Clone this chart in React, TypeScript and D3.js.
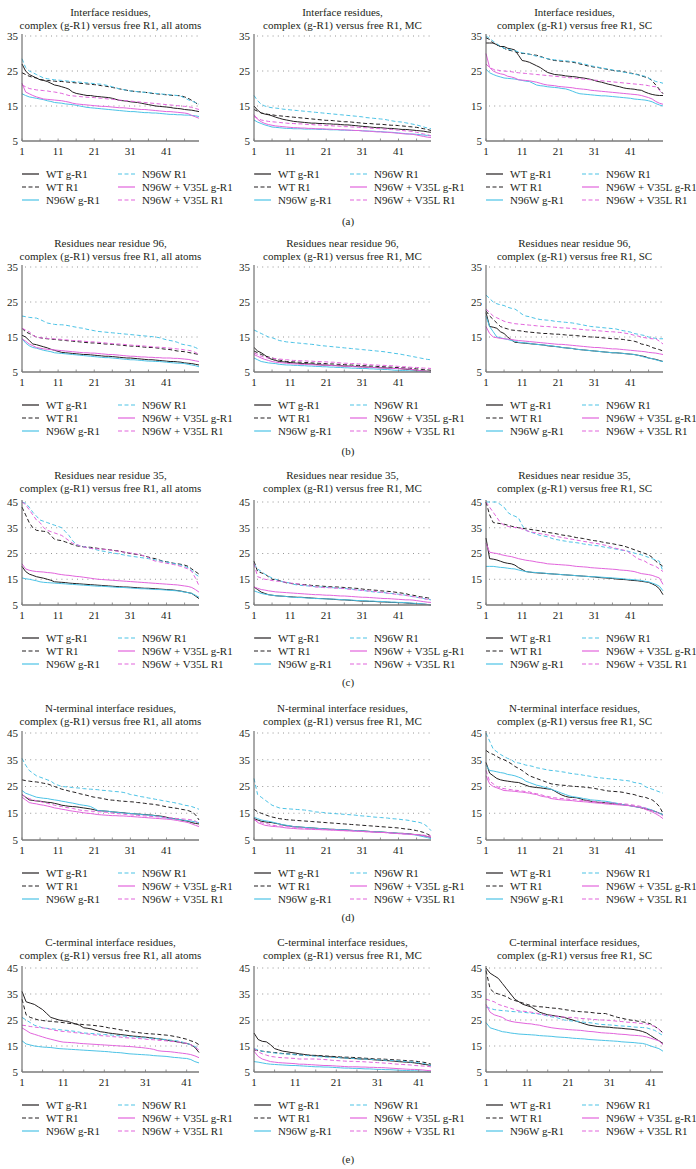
import React from "react";
import * as d3 from "d3";

// ---------- labels ----------
const seriesNames = ["WT g-R1", "WT R1", "N96W g-R1", "N96W R1", "N96W + V35L g-R1", "N96W + V35L R1"];
const rowTitles = ["Interface residues,", "Residues near residue 96,", "Residues near residue 35,", "N-terminal interface residues,", "C-terminal interface residues,"];
const panelSuffix = ["all atoms", "MC", "SC"];
const captions = ["(a)", "(b)", "(c)", "(d)", "(e)"];
const xTickValues = [1, 11, 21, 31, 41];
const yTicksLow = [5, 15, 25, 35];
const yTicksHigh = [5, 15, 25, 35, 45];
const rowYMax = [35, 35, 45, 45, 45];
const rowCount = [50, 50, 50, 50, 44];

// ---------- data: row (a) ----------
const a1_wtG = [27,25,24,23.5,23,22.5,22.3,22,21.5,21,20.8,20.5,20.2,19.8,19,18.6,18.4,18.2,18,18,17.8,17.7,17.6,17.5,17.4,17.2,16.9,16.6,16.5,16.4,16.2,16.1,16,15.8,15.6,15.4,15.2,15,14.9,14.8,14.7,14.6,14.4,14.3,14.2,14,13.9,13.8,13.6,13.4];
const a1_wtR = [24.5,24,23.5,23.2,23,22.6,22.4,22.3,22.2,22.1,22,22,21.9,21.8,21.7,21.6,21.5,21.4,21.3,21.2,21.1,21,20.8,20.7,20.5,20.3,20.1,19.9,19.7,19.5,19.3,19.2,19.1,19,18.9,18.8,18.6,18.5,18.4,18.3,18.2,18.1,18,18,17.9,17.6,17.2,16.6,16,15.2];
const a1_nG = [18.5,18,17.6,17.4,17.2,17,16.8,16.5,16.3,16,15.9,15.8,15.6,15.5,15.4,15.2,15,14.8,14.6,14.5,14.4,14.3,14.2,14.1,14,13.9,13.8,13.7,13.6,13.5,13.4,13.4,13.3,13.2,13.1,13.1,13,13,12.9,12.8,12.7,12.6,12.6,12.5,12.5,12.4,12.4,12.3,12.2,12];
const a1_nR = [28.5,26,25,24.5,24,23.5,23,22.8,22.6,22.5,22.4,22.3,22.2,22.1,22,21.9,21.8,21.7,21.6,21.5,21.4,21.3,21.2,21,20.8,20.5,20.2,19.9,19.7,19.5,19.3,19.2,19.1,19,18.9,18.8,18.7,18.6,18.5,18.4,18.3,18.2,18.1,18,17.8,17.3,16.8,16.4,16,15.5];
const a1_vG = [21.5,19,18.5,18,17.6,17.3,17,16.9,16.8,16.7,16.6,16.5,16.3,16.1,15.8,15.6,15.5,15.4,15.3,15.2,15.1,15,14.9,14.9,14.8,14.7,14.6,14.5,14.5,14.4,14.3,14.2,14.1,14,14,13.9,13.8,13.7,13.6,13.5,13.4,13.4,13.3,13.2,13.1,13,12.8,12.3,11.9,11.5];
const a1_vR = [21,20.5,20,19.8,19.6,19.5,19.4,19.3,19.1,19,18.8,18.6,18.3,18,17.9,17.8,17.7,17.6,17.5,17.5,17.4,17.3,17.2,17.1,17,16.9,16.8,16.7,16.6,16.5,16.4,16.3,16.2,16.1,16,15.9,15.8,15.7,15.6,15.5,15.4,15.3,15.2,15.1,15,14.9,14.8,14.6,14.3,14];

const a2_wtG = [15,13.8,13,12.7,12.5,12.2,11.8,11.5,11.2,11,10.8,10.6,10.5,10.4,10.3,10.2,10.1,10.1,10,10,9.9,9.9,9.8,9.8,9.7,9.6,9.6,9.5,9.4,9.3,9.2,9.1,9,8.9,8.8,8.8,8.7,8.6,8.6,8.5,8.4,8.3,8.3,8.2,8.1,8,7.9,7.8,7.6,7.5];
const a2_wtR = [14,13.5,13,12.8,12.6,12.5,12.3,12.2,12.1,12,11.9,11.8,11.7,11.6,11.5,11.4,11.3,11.2,11.1,11,10.9,10.9,10.8,10.7,10.6,10.5,10.5,10.4,10.3,10.2,10.1,10,10,9.9,9.8,9.8,9.7,9.6,9.5,9.5,9.4,9.3,9.2,9.1,9,8.9,8.7,8.5,8.3,8];
const a2_nG = [11,10.4,10,9.6,9.3,9,8.9,8.8,8.7,8.6,8.6,8.5,8.5,8.5,8.4,8.4,8.4,8.4,8.3,8.3,8.3,8.2,8.2,8.2,8.1,8.1,8.1,8,8,8,7.9,7.9,7.8,7.8,7.7,7.7,7.6,7.5,7.5,7.4,7.3,7.2,7.1,7,7,6.9,6.8,6.7,6.6,6.5];
const a2_nR = [18,16.5,15.5,15,14.7,14.5,14.4,14.3,14.1,14,13.9,13.8,13.7,13.6,13.5,13.4,13.3,13.2,13.1,13,12.9,12.8,12.7,12.6,12.5,12.4,12.3,12.2,12.1,12,11.9,11.7,11.6,11.5,11.4,11.3,11.2,11,10.8,10.6,10.5,10.4,10.2,10,9.8,9.6,9.3,9,8.7,8.5];
const a2_vG = [12.5,11.2,10.5,10,9.7,9.5,9.3,9.2,9.1,9,8.9,8.8,8.8,8.7,8.7,8.6,8.6,8.5,8.5,8.5,8.4,8.4,8.3,8.3,8.2,8.2,8.1,8.1,8,8,7.9,7.8,7.8,7.7,7.6,7.6,7.5,7.5,7.4,7.3,7.2,7.1,7,7,6.9,6.7,6.5,6.3,6.1,6];
const a2_vR = [12,11.5,11,10.8,10.6,10.5,10.4,10.3,10.2,10.1,10,10,9.9,9.9,9.8,9.7,9.7,9.6,9.6,9.5,9.4,9.4,9.3,9.3,9.2,9.1,9.1,9,9,8.9,8.8,8.8,8.7,8.6,8.6,8.5,8.4,8.4,8.3,8.2,8.1,8,7.9,7.8,7.7,7.5,7.2,7,6.8,6.5];

const a3_wtG = [33,33,33,32.5,32,32,31.5,31.3,31,29.5,28,27.8,27.5,27,26.5,26,25.3,24.6,24.3,24,23.9,23.8,23.6,23.5,23.4,23.3,23.1,23,22.8,22.6,22.3,22,21.8,21.5,21.2,21,20.7,20.5,20.2,20,19.9,19.8,19.6,19.5,19,18.6,18.3,18.1,18,18];
const a3_wtR = [34.5,34,33,32.5,32,31.5,31,30.8,30.5,30.3,30,30,29.8,29.6,29.5,29.2,28.8,28.5,28.2,28,27.9,27.8,27.7,27.6,27.5,27.3,27,26.8,26.5,26.3,26.1,26,25.8,25.6,25.4,25.2,25,25,24.8,24.6,24.4,24.2,24,23.6,23.3,23,22.2,21,19.8,18.5];
const a3_nG = [25.5,24.5,24,23.6,23.3,23,22.9,22.8,22.7,22.5,22.3,22.1,22,21.5,21,20.8,20.7,20.5,20.4,20.3,20.2,20,19.9,19.6,19.2,18.8,18.5,18.4,18.3,18.2,18.1,18,17.9,17.9,17.8,17.7,17.6,17.5,17.4,17.3,17.2,17,16.9,16.8,16.7,16.5,16.2,15.7,15.3,15];
const a3_nR = [35,34.3,33.5,32.8,32,31.5,31.2,31,30.8,30.5,30.2,30,29.8,29.5,29.2,29,28.8,28.5,28.3,28.2,28.1,28,27.9,27.8,27.7,27.5,27.3,27,26.8,26.5,26.3,26.1,25.9,25.7,25.5,25.3,25.1,24.9,24.7,24.5,24.3,24.1,23.9,23.7,23.5,23,22.5,22,21.8,21.5];
const a3_vG = [30,26,25,24.5,24.2,24,23.5,23.3,23,22.5,22.4,22.3,22.2,22,21.8,21.5,21.2,21,20.9,20.8,20.6,20.5,20.4,20.3,20.2,20,19.9,19.8,19.7,19.5,19.4,19.3,19.2,19.1,19,18.9,18.8,18.7,18.6,18.5,18.4,18.3,18.2,18,17.7,17.4,17,16.3,15.8,15.5];
const a3_vR = [27,26,25.5,25.3,25.1,25,24.9,24.8,24.6,24.5,24.4,24.3,24.2,24.1,24,23.9,23.8,23.7,23.6,23.5,23.4,23.3,23.2,23.1,23,22.9,22.8,22.7,22.6,22.5,22.4,22.3,22.2,22.1,22,21.9,21.8,21.7,21.6,21.5,21.4,21.3,21.2,21.1,21,20.8,20.6,20.5,19.5,18.5];

// ---------- data: row (b) ----------
const b1_wtG = [15.5,15,14,13,12.8,12.5,12.2,11.9,11.5,11.2,10.9,10.6,10.5,10.4,10.3,10.2,10.1,10,10,9.9,9.8,9.7,9.6,9.5,9.5,9.4,9.3,9.2,9.1,9,9,8.9,8.8,8.7,8.6,8.5,8.5,8.4,8.3,8.2,8.1,8,8,7.9,7.8,7.6,7.5,7.4,7.2,7];
const b1_wtR = [17.5,16.5,16,15.5,15,14.8,14.6,14.5,14.4,14.3,14.2,14.1,14,13.9,13.8,13.7,13.6,13.5,13.4,13.3,13.3,13.2,13.1,13,13,12.9,12.8,12.7,12.6,12.5,12.4,12.4,12.3,12.2,12.1,12,12,11.9,11.8,11.6,11.5,11.4,11.2,11,10.9,10.8,10.6,10.4,10.2,10];
const b1_nG = [14.5,13.3,12.5,12,11.8,11.5,11.2,11,10.8,10.5,10.4,10.3,10.2,10.1,10,9.9,9.8,9.7,9.6,9.5,9.4,9.3,9.2,9.1,9.1,9,8.9,8.8,8.7,8.6,8.5,8.5,8.4,8.3,8.2,8.1,8.1,8,8,7.9,7.8,7.7,7.6,7.5,7.5,7.4,7.2,7,6.8,6.5];
const b1_nR = [21,20.8,20.6,20.5,20.4,20,19.5,19,18.8,18.6,18.5,18.5,18.4,18.2,18,17.8,17.6,17.5,17.2,17,16.8,16.6,16.5,16.4,16.3,16.2,16.1,16,15.9,15.8,15.7,15.6,15.5,15.4,15.3,15.2,15.1,15,14.8,14.5,14.2,14,13.8,13.5,13,12.8,12.6,12.4,12,11.5];
const b1_vG = [14.5,13.8,13,12.5,12,11.8,11.6,11.5,11.4,11.3,11.2,11.1,11,10.9,10.8,10.7,10.6,10.5,10.5,10.4,10.4,10.3,10.2,10.1,10,10,9.9,9.8,9.7,9.6,9.5,9.5,9.4,9.3,9.3,9.2,9.2,9.1,9.1,9,9,9,8.9,8.9,8.8,8.7,8.6,8.4,8.2,8];
const b1_vR = [17.5,17,16.5,15.5,15,14.8,14.7,14.6,14.5,14.5,14.4,14.3,14.2,14.1,14,14,13.9,13.8,13.7,13.6,13.6,13.5,13.4,13.3,13.2,13.1,13,13,12.9,12.8,12.7,12.6,12.6,12.5,12.4,12.3,12.2,12.1,12.1,12,11.9,11.8,11.7,11.6,11.5,11.3,11.2,11,10.6,10];

const b2_wtG = [12,11,10.5,9.8,9,8.6,8.3,8,7.9,7.8,7.7,7.6,7.5,7.4,7.4,7.3,7.3,7.2,7.1,7,7,6.9,6.9,6.8,6.8,6.7,6.7,6.6,6.6,6.5,6.5,6.4,6.4,6.3,6.3,6.2,6.2,6.1,6.1,6,6,5.9,5.8,5.7,5.6,5.5,5.4,5.3,5.2,5];
const b2_wtR = [11,10.5,10,9.6,9.3,9,8.7,8.4,8.2,8,7.9,7.9,7.8,7.8,7.7,7.7,7.6,7.5,7.5,7.4,7.4,7.3,7.3,7.2,7.2,7.1,7,7,6.9,6.9,6.8,6.8,6.7,6.7,6.6,6.5,6.5,6.4,6.4,6.3,6.3,6.2,6.2,6.1,6,5.9,5.8,5.7,5.6,5.5];
const b2_nG = [9,8.5,8,7.8,7.6,7.5,7.4,7.2,7.1,7,7,6.9,6.9,6.8,6.8,6.7,6.7,6.6,6.6,6.5,6.5,6.4,6.4,6.3,6.3,6.2,6.2,6.1,6.1,6,6,6,5.9,5.9,5.8,5.8,5.7,5.7,5.6,5.5,5.5,5.4,5.4,5.3,5.3,5.2,5.2,5.1,5.1,5];
const b2_nR = [17,16.5,16,15.5,15,14.8,14.4,14,13.8,13.6,13.5,13.4,13.3,13.2,13.1,13,12.9,12.8,12.6,12.5,12.4,12.3,12.2,12.1,12,11.9,11.8,11.7,11.6,11.5,11.4,11.3,11.2,11.1,11,10.9,10.8,10.6,10.5,10.3,10.2,10,9.8,9.6,9.4,9.2,9,8.8,8.6,8.5];
const b2_vG = [10,9.5,9,8.6,8.3,8,7.8,7.7,7.6,7.5,7.4,7.3,7.3,7.2,7.2,7.1,7.1,7,7,7,6.9,6.9,6.8,6.8,6.7,6.7,6.6,6.6,6.5,6.5,6.4,6.4,6.3,6.3,6.2,6.2,6.1,6.1,6,6,6,5.9,5.9,5.8,5.7,5.5,5.4,5.3,5.2,5];
const b2_vR = [10.5,10,9.5,9.2,9,9,8.8,8.7,8.6,8.5,8.4,8.3,8.3,8.2,8.2,8.1,8.1,8,8,7.9,7.9,7.8,7.8,7.7,7.6,7.5,7.5,7.4,7.4,7.3,7.3,7.2,7.1,7,7,6.9,6.9,6.8,6.8,6.7,6.6,6.5,6.5,6.4,6.3,6.3,6.2,6.1,6.1,6];

const b3_wtG = [22,18,17.8,17.5,16.5,16,15,14.2,13.5,13.4,13.3,13.2,13.1,13,12.9,12.8,12.7,12.5,12.4,12.3,12.2,12,11.9,11.8,11.7,11.5,11.4,11.3,11.2,11.1,11,10.9,10.8,10.7,10.6,10.5,10.5,10.4,10.3,10.2,10.1,10,9.8,9.6,9.4,9,8.8,8.6,8.3,8];
const b3_wtR = [22.5,21,20,19,18,17.6,17.3,17,16.9,16.8,16.7,16.5,16.4,16.3,16.2,16.1,16,16,15.9,15.8,15.8,15.7,15.6,15.5,15.5,15.4,15.3,15.2,15.1,15,15,14.9,14.8,14.7,14.6,14.5,14.5,14.4,14.3,14.1,14,13.8,13.5,13,12.8,12.5,12,11.7,11.4,11];
const b3_nG = [21,18,16.5,15,14.8,14.5,14.3,14,13.8,13.5,13.4,13.3,13.2,13,12.9,12.8,12.7,12.6,12.5,12.3,12.2,12,11.9,11.8,11.7,11.5,11.4,11.3,11.2,11.1,11,10.9,10.8,10.7,10.6,10.5,10.5,10.4,10.3,10.2,10.1,10,9.8,9.5,9.2,9,8.8,8.5,8.2,8];
const b3_nR = [27,26,25,24.5,24.2,24,23.5,23.2,23,22.3,21.5,21,20.8,20.5,20.2,20,19.9,19.8,19.7,19.5,19.4,19.3,19.2,19.1,19,18.8,18.6,18.4,18.2,18,17.9,17.8,17.7,17.6,17.5,17.4,17.3,17,16.8,16.6,16.4,16,15.8,15.6,15.4,15,14.8,14.6,14.5,14.5];
const b3_vG = [18,16,15,14.8,14.6,14.5,14.4,14.3,14.1,14,13.9,13.8,13.7,13.6,13.5,13.4,13.3,13.2,13.1,13,12.9,12.9,12.8,12.7,12.6,12.5,12.4,12.3,12.2,12.1,12,12,11.9,11.8,11.7,11.6,11.6,11.5,11.4,11.3,11.2,11.1,11,10.9,10.8,10.6,10.5,10.4,10.2,10];
const b3_vR = [23,22,21,20.5,20,19.5,19.2,19,18.8,18.7,18.6,18.5,18.4,18.3,18.2,18.1,18,18,17.9,17.8,17.7,17.6,17.6,17.5,17.4,17.3,17.2,17.1,17,17,16.9,16.8,16.7,16.6,16.5,16.5,16.4,16.3,16.2,16,15.8,15.5,15.3,15,14.8,14.6,14.5,14.5,13.8,13];

// ---------- data: row (c) ----------
const c1_wtG = [20,18,17,16.5,16,15.7,15.4,15,14.6,14,13.9,13.8,13.7,13.5,13.4,13.3,13.2,13.1,13,12.9,12.8,12.7,12.6,12.5,12.4,12.3,12.2,12.1,12,12,11.9,11.8,11.7,11.6,11.5,11.5,11.4,11.3,11.2,11.1,11,10.9,10.8,10.6,10.4,10.1,9.8,9.5,8.5,7.5];
const c1_wtR = [43,40,37,35,34,33.8,33.6,33.5,32,30.5,30.2,30,29.5,29,28.5,28,27.8,27.6,27.5,27.4,27.2,27,26.8,26.6,26.5,26.3,26.1,26,25.6,25.3,25,24.8,24.6,24.3,24,23.6,23.2,23,22.5,22,21.8,21.5,21.2,21,20.8,20.5,20,19,18,17];
const c1_nG = [15.5,15.2,15,14.7,14.4,14,13.8,13.7,13.6,13.5,13.4,13.3,13.2,13.1,13,12.9,12.8,12.7,12.6,12.5,12.4,12.3,12.3,12.2,12.1,12,11.9,11.8,11.8,11.7,11.6,11.5,11.4,11.3,11.3,11.2,11.1,11,11,10.9,10.8,10.7,10.6,10.5,10.3,10,9.8,9.5,8.8,8];
const c1_nR = [45,44.5,43,41,39.5,38,37.5,37,36.5,36,35.5,35,33.5,32,30,28.5,28,27.7,27.3,27,26.7,26.3,26,25.8,25.5,25.2,25,24.8,24.5,24.2,24,23.8,23.6,23.4,23.2,23,22.8,22.5,22.2,22,21.7,21.4,21.1,20.8,20.5,20,19.5,18.5,17,16];
const c1_vG = [21,19,18.5,18.2,18,17.9,17.8,17.6,17.5,17.3,17,16.8,16.6,16.5,16.3,16.1,16,15.8,15.6,15.4,15.2,15,14.9,14.8,14.7,14.6,14.5,14.4,14.3,14.2,14.1,14,13.9,13.8,13.7,13.6,13.5,13.4,13.3,13.2,13.1,13,12.9,12.8,12.6,12.4,12.2,11.8,11,10];
const c1_vR = [45,44,42,40,38,37,35,34,33.5,33,32.5,32,31,30,29,28.5,28,27.6,27.3,27,26.9,26.8,26.7,26.6,26.5,26.2,26,25.8,25.6,25.4,25.2,25,24.7,24.4,24,23.5,22.5,22,21.8,21.5,21.2,21,20.7,20.4,20,19.5,19,18,15.5,12.5];

const c2_wtG = [12,11,10,9.5,9,8.8,8.6,8.5,8.4,8.3,8.2,8.1,8,8,7.9,7.8,7.7,7.6,7.5,7.5,7.4,7.3,7.2,7.1,7,7,6.9,6.8,6.7,6.6,6.5,6.5,6.4,6.4,6.3,6.2,6.2,6.1,6,6,5.9,5.9,5.8,5.7,5.6,5.5,5.4,5.3,5.2,5];
const c2_wtR = [22,18,17.5,17,16,15,14.8,14.5,14,13.6,13.4,13.2,13.1,13,12.9,12.8,12.6,12.5,12.4,12.3,12.2,12.1,12,12,11.9,11.8,11.7,11.6,11.5,11.4,11.2,11,10.9,10.8,10.7,10.5,10.4,10.3,10.2,10,9.8,9.6,9.4,9,8.8,8.5,8.2,8,7.8,7.5];
const c2_nG = [10.5,10,9.5,9.2,9,8.8,8.6,8.5,8.4,8.3,8.1,8,7.9,7.9,7.8,7.7,7.6,7.5,7.5,7.4,7.4,7.3,7.3,7.2,7.1,7,7,6.9,6.8,6.7,6.7,6.6,6.5,6.5,6.4,6.4,6.3,6.2,6.1,6.1,6,6,5.9,5.8,5.7,5.6,5.5,5.4,5.2,5];
const c2_nR = [21,19,18,17,16.2,15.5,15,14.5,14,13.8,13.5,13,12.8,12.6,12.5,12.4,12.3,12.1,12,12,11.9,11.8,11.7,11.6,11.5,11.4,11.3,11.2,11,10.8,10.6,10.5,10.3,10.1,10,9.9,9.8,9.6,9.5,9.4,9.2,9,8.8,8.5,8.2,8,7.8,7.5,7.2,7];
const c2_vG = [12,11.5,11,10.8,10.5,10.3,10.1,10,9.9,9.8,9.7,9.6,9.5,9.4,9.3,9.2,9.1,9,9,8.9,8.8,8.8,8.7,8.6,8.5,8.5,8.4,8.3,8.2,8.1,8,8,7.9,7.8,7.7,7.6,7.5,7.5,7.4,7.3,7.2,7.1,7,7,6.9,6.7,6.5,6.3,6.1,6];
const c2_vR = [21,16,15.5,15,14.8,14.5,14.3,14.2,14,13.8,13.5,13.4,13.2,13,12.7,12.5,12.3,12,11.9,11.8,11.7,11.7,11.6,11.5,11.5,11.4,11.2,11,10.9,10.8,10.7,10.5,10.4,10.3,10.2,10,9.8,9.6,9.4,9.2,9,8.9,8.7,8.5,8.3,8,7.8,7.5,7.2,7];

const c3_wtG = [31,23,22.8,22.5,22,21.5,21.2,21,20.5,19.5,18.8,18,17.8,17.6,17.5,17.4,17.3,17.2,17.1,17,16.9,16.8,16.7,16.6,16.5,16.4,16.3,16.2,16.1,16,15.9,15.7,15.6,15.5,15.4,15.3,15.1,15,14.9,14.8,14.6,14.5,14.4,14.2,14,13.8,13.2,12.5,11.3,9];
const c3_wtR = [45,40,37,36.8,36.6,36.4,36,35.6,35.3,35,34.8,34.6,34.4,34.2,34,33.8,33.5,33.2,33,32.8,32.5,32.2,32,31.8,31.5,31.2,31,30.8,30.5,30.2,30,29.8,29.5,29.2,29,28.8,28.5,28.2,28,27.5,27,26.5,26,25.5,25,24.5,23.5,22,21,20];
const c3_nG = [20,20,20,19.8,19.6,19.5,19.3,19.1,19,18.6,18.3,18,17.8,17.7,17.6,17.5,17.4,17.2,17.1,17,16.9,16.8,16.7,16.6,16.5,16.4,16.3,16.2,16.1,16,16,15.9,15.8,15.7,15.6,15.5,15.4,15.3,15.2,15,14.9,14.8,14.7,14.5,14.2,14,13.5,13,12.3,10.5];
const c3_nR = [45,45,45,45,44,43,41,40,39.5,38.8,36,34,33.5,33,32.5,32,31.8,31.5,31,30.5,30.3,30,29.8,29.5,29.4,29.2,29,28.7,28.5,28.3,28.1,28,27.7,27.4,27.2,27,26.7,26.4,26.2,26,25.6,25.2,24.8,24.5,24,23.5,23,22.5,22,18];
const c3_vG = [29,25.5,25.2,25,24.6,24.3,24,23.8,23.4,23,22.7,22.4,22.2,22,21.7,21.5,21.3,21,20.9,20.8,20.7,20.6,20.5,20.4,20.2,20,19.9,19.8,19.7,19.5,19.4,19.3,19.2,19.1,19,18.9,18.8,18.6,18.5,18.4,18.2,18,17.6,17.2,17,16.8,16.5,16,15.5,13];
const c3_vR = [45,43,41,39,37,36,35.5,35.3,35.1,35,34.5,34,33.5,33.2,33,32.7,32.5,32.2,32,31.7,31.5,31.2,31,30.7,30.5,30.2,30,29.7,29.5,29.2,29,28.8,28.5,28.2,27.8,27.3,27,26.7,26.3,26,25,24,23,22.5,22,21,20.5,20,19,18];

// ---------- data: row (d) ----------
const d1_wtG = [22,21,20,19.8,19.6,19.5,19.3,19.1,19,18.7,18.4,18,17.8,17.6,17.5,17.4,17.2,17,16.8,16.6,16.3,16,15.9,15.8,15.7,15.5,15.4,15.3,15.2,15,14.9,14.8,14.7,14.6,14.5,14.4,14.3,14.1,14,13.8,13.5,13.2,13,12.8,12.5,12.2,12,11.5,11.2,11];
const d1_wtR = [27.5,27.2,27,26.8,26.7,26.5,26.2,26,25.5,25,24.5,24,23.7,23.3,23,22.7,22.3,22,21.7,21.3,21,20.8,20.6,20.3,20,19.9,19.8,19.6,19.5,19.4,19.3,19.2,19,18.9,18.7,18.5,18.4,18.2,18,17.7,17.4,17.2,17,16.8,16.5,16.3,16,15.5,14.5,12.5];
const d1_nG = [23.5,22.5,22,21.5,21,20.8,20.6,20.5,20.2,20,19.8,19.5,19.3,19,18.8,18.5,18.2,18,17.8,17.5,16.8,16,15.9,15.8,15.7,15.5,15.4,15.2,15.1,15,14.9,14.8,14.7,14.5,14.4,14.3,14.2,14,13.8,13.5,13.2,13,12.9,12.8,12.6,12.4,12.2,12,11.8,11.5];
const d1_nR = [35.5,33,31,30,29,28.5,28,27.5,27,26,25.5,25,24.9,24.8,24.6,24.5,24.4,24.2,24.1,24,23.9,23.8,23.6,23.5,23.4,23.2,23.1,23,22.8,22.5,22,21.8,21.5,21.2,21,20.7,20.5,20.2,20,19.7,19.5,19.2,19,18.7,18.4,18,17.8,17.5,17,16.5];
const d1_vG = [21,20,19,18.7,18.5,18.2,18,17.7,17.4,17,16.8,16.5,16.3,16,15.8,15.6,15.4,15.2,15,14.9,14.7,14.5,14.4,14.3,14.2,14.1,14.1,14,14,13.9,13.8,13.7,13.6,13.5,13.4,13.3,13.2,13.1,13,12.9,12.8,12.7,12.5,12.3,12,11.8,11.5,11,10.5,10];
const d1_vR = [22,21,20.5,20,19.7,19.4,19,18.7,18.4,18,17.7,17.5,17.2,17,16.8,16.5,16.2,16,15.9,15.8,15.7,15.6,15.5,15.4,15.3,15,14.9,14.8,14.7,14.5,14.4,14.3,14.2,14.1,14,13.9,13.8,13.7,13.6,13.5,13.4,13.3,13.2,13,12.9,12.8,12.7,12.5,12.2,10.5];

const d2_wtG = [13,12.5,12,11.8,11.6,11.5,11.2,11,10.6,10.4,10.2,10,9.9,9.8,9.7,9.6,9.5,9.4,9.3,9.2,9.1,9,9,8.9,8.8,8.8,8.7,8.6,8.5,8.5,8.4,8.3,8.2,8.1,8,8,7.9,7.8,7.7,7.6,7.5,7.5,7.4,7.3,7.1,7,6.8,6.6,6.3,6];
const d2_wtR = [16.5,15.5,15,14.5,14,13.6,13.3,13,12.8,12.6,12.5,12.4,12.3,12.2,12.1,12,11.9,11.8,11.7,11.6,11.5,11.4,11.3,11.2,11.1,11,10.9,10.8,10.7,10.6,10.5,10.4,10.3,10.2,10.1,10,9.9,9.8,9.7,9.6,9.5,9.3,9.1,9,8.8,8.5,8.2,7.8,7.2,6.5];
const d2_nG = [13.5,13,12.5,12.2,12,11.7,11.4,11,10.7,10.5,10.3,10,9.9,9.8,9.7,9.6,9.5,9.4,9.3,9.2,9.1,9,8.9,8.9,8.8,8.8,8.7,8.6,8.5,8.5,8.4,8.3,8.2,8.1,8,8,7.9,7.8,7.7,7.6,7.5,7.4,7.3,7.2,7,6.8,6.5,6.2,5.9,5.5];
const d2_nR = [28,22,21,20,19,18,17.5,17,16.8,16.7,16.6,16.5,16.4,16.3,16.2,16,15.8,15.5,15.4,15.3,15.1,15,14.9,14.8,14.7,14.6,14.5,14.4,14.3,14.1,14,13.9,13.8,13.6,13.5,13.4,13.3,13.2,13,12.9,12.8,12.6,12.5,12.3,12,11.8,11.5,11,10,8.5];
const d2_vG = [13,11.5,11,10.5,10.3,10.1,10,9.9,9.7,9.5,9.4,9.3,9.2,9.1,9.1,9,9,8.9,8.9,8.8,8.8,8.7,8.7,8.6,8.5,8.5,8.4,8.4,8.3,8.3,8.2,8.1,8,8,7.9,7.8,7.8,7.7,7.6,7.5,7.4,7.3,7.3,7.2,7.1,7,6.8,6.6,6.3,6];
const d2_vR = [12.5,12,11.5,11.2,11,10.5,10.4,10.3,10.2,10,9.9,9.8,9.7,9.5,9.4,9.3,9.2,9.1,9.1,9,8.9,8.8,8.8,8.7,8.6,8.5,8.5,8.4,8.3,8.3,8.2,8.1,8.1,8,7.9,7.8,7.8,7.7,7.6,7.5,7.4,7.3,7.2,7.1,7,7,6.9,6.8,6.6,6.5];

const d3_wtG = [34,30,29,28,27.5,27.2,27,26.8,26.6,26.5,26,25.5,25,24.8,24.6,24.5,24.3,24.1,24,23.3,22.5,21.8,21.3,21,20.9,20.8,20.5,20,19.8,19.5,19.3,19.1,19,18.9,18.8,18.7,18.5,18.4,18.2,18,17.8,17.6,17.3,17,16.7,16.4,16,15.6,15,14.5];
const d3_wtR = [38.5,37.5,37,36.2,35.5,35,34.3,33.5,32.5,31.8,31,30,29,28.5,28,27.5,27,26.5,26,25.8,25.6,25.5,25.4,25.2,25.1,25,24.9,24.8,24.6,24.5,24.3,24,23.8,23.5,23.3,23.2,23.1,23,22.8,22.5,22.2,22,21.5,21.2,21,20.5,20,19,17.5,15];
const d3_nG = [33,31,30.8,30.5,30.2,30,29.5,29.3,29,28.5,28,27,26.5,26,25.5,25.2,24.8,24.5,24,23.5,23,22.5,22,21.5,21.2,21,20.8,20.5,20.3,20,19.9,19.8,19.6,19.5,19.3,19,18.8,18.5,18.2,18,17.8,17.5,17.3,17.2,17,16.6,16.2,15.5,15,14.5];
const d3_nR = [45,42,39,38,37,36.2,35.5,35,34,33.8,33.5,33,32.8,32.5,32,31.8,31.5,31.2,31,30.9,30.7,30.5,30.3,30,29.8,29.6,29.5,29.2,29,28.8,28.5,28.3,28.2,28,27.9,27.8,27.6,27.5,27.3,27.2,27,26.5,26.3,26,25,24.5,24,23.5,23,22.5];
const d3_vG = [29,26,25,24.5,24,23.5,23.4,23.3,23.2,23,22.9,22.7,22.5,22.2,22,21.5,21.2,21,20.5,20.3,20.1,20,19.9,19.8,19.7,19.5,19.4,19.3,19.2,19,18.9,18.8,18.7,18.5,18.4,18.3,18.2,18.1,18,17.9,17.8,17.6,17.4,17.2,16.5,16,15.5,14.8,14,13];
const d3_vR = [31,27,26,25,24.5,24.2,24,23.8,23.6,23.5,23.3,23.1,23,22.5,22.3,22,21.6,21.3,21,20.8,20.6,20.5,20.4,20.2,20.1,20,19.9,19.7,19.6,19.5,19.4,19.2,19.1,19,18.9,18.8,18.7,18.6,18.5,18.4,18.2,18,17.8,17.5,17,16.5,16,15.5,14.8,14];

// ---------- data: row (e) ----------
const e1_wtG = [36,32,31.5,31,30,29,27.5,26,25.5,25,24.7,24.5,24,23.5,23,22,21.8,21.5,21,20.5,20.3,20,19.8,19.6,19.4,19.2,19,18.8,18.7,18.5,18.4,18.2,18,17.8,17.6,17.3,17,16.8,16.5,16.2,16,15.5,14.5,12.5];
const e1_wtR = [33,27,26,25.5,25,24.8,24.6,24.5,24.3,24.2,24,23.8,23.6,23.5,23.4,23.2,23.1,23,22.8,22.6,22.4,22,21.8,21.5,21.2,21,20.7,20.4,20.2,20,19.8,19.7,19.6,19.5,19.3,19.2,19,18.7,18.4,18,17.6,17,16.5,15.5];
const e1_nG = [17,15.8,15.4,15,14.8,14.6,14.5,14.4,14.2,14,13.9,13.8,13.7,13.6,13.5,13.4,13.3,13.2,13.1,13,12.9,12.8,12.6,12.5,12.4,12.2,12,11.9,11.8,11.7,11.6,11.5,11.3,11.2,11.1,11,10.8,10.6,10.5,10.3,10.2,9.8,9,8.5];
const e1_nR = [26,25,24,23,22.5,22,21.8,21.6,21.5,21.3,21.1,21,20.8,20.6,20.3,20,19.9,19.8,19.7,19.5,19.4,19.3,19.2,19,18.9,18.8,18.7,18.5,18.4,18.2,18.1,18,17.9,17.8,17.6,17.5,17.3,17.1,16.9,16.5,16,15.5,14.8,14];
const e1_vG = [22,21,20,19.5,19,18.5,18,17.6,17.2,16.8,16.5,16.4,16.3,16.2,16,15.9,15.8,15.7,15.6,15.5,15.4,15.3,15.2,15.1,15,14.9,14.8,14.7,14.5,14.4,14.2,14,13.7,13.2,13,12.9,12.8,12.6,12.4,12.2,12,11.7,11.2,10.5];
const e1_vR = [23,22.8,22.5,22.3,22.1,22,21.7,21.4,21,20.8,20.6,20.5,20.3,20.1,20,19.8,19.6,19.4,19.2,19,18.9,18.8,18.6,18.5,18.4,18.2,18.1,18,17.9,17.8,17.6,17.5,17.4,17.2,17.1,17,16.8,16.7,16.5,16.3,16,15.5,14.6,13.5];

const e2_wtG = [20,17.5,16.8,16.6,15.5,14,13.5,13,12.8,12.5,12.3,12,11.8,11.5,11.4,11.3,11.1,11,10.9,10.8,10.7,10.5,10.4,10.3,10.2,10.1,10,10,9.9,9.7,9.6,9.5,9.4,9.3,9.2,9,8.9,8.8,8.7,8.5,8.3,8,7.8,7.5];
const e2_wtR = [13.5,13.3,13,12.8,12.6,12.5,12.3,12.1,12,11.9,11.8,11.6,11.5,11.5,11.4,11.4,11.3,11.2,11.1,11,10.9,10.8,10.7,10.7,10.6,10.5,10.4,10.3,10.2,10.1,10,10,9.9,9.8,9.7,9.6,9.5,9.4,9.3,9.2,9,8.8,8.5,8];
const e2_nG = [9,8.8,8.5,8.2,8,7.9,7.8,7.7,7.6,7.5,7.5,7.4,7.3,7.2,7.1,7,7,6.9,6.9,6.8,6.7,6.6,6.5,6.5,6.4,6.4,6.3,6.2,6.2,6.1,6,6,5.9,5.9,5.8,5.7,5.6,5.6,5.5,5.5,5.4,5.3,5.2,5];
const e2_nR = [14,13.5,13,12.7,12.5,12.3,12.1,12,11.9,11.8,11.6,11.5,11.4,11.3,11.2,11,10.9,10.8,10.7,10.6,10.6,10.5,10.4,10.3,10.2,10.1,10,10,9.9,9.8,9.7,9.6,9.5,9.5,9.4,9.3,9.2,9,8.9,8.8,8.6,8.4,8,7.5];
const e2_vG = [13,11,10,9.5,9,8.8,8.6,8.5,8.4,8.3,8.2,8,8,7.9,7.8,7.7,7.6,7.5,7.5,7.4,7.3,7.2,7.1,7,7,7,6.9,6.9,6.8,6.8,6.7,6.7,6.6,6.5,6.4,6.3,6.2,6.1,6,6,5.9,5.8,5.6,5.5];
const e2_vR = [14,12.8,12,11.5,11,10.8,10.6,10.5,10.4,10.3,10.2,10,10,10,10,10,9.9,9.8,9.7,9.5,9.4,9.3,9.2,9.1,9.1,9,9,8.9,8.8,8.7,8.6,8.5,8.4,8.3,8.1,8,7.9,7.8,7.7,7.5,7.4,7.3,7.2,7];

const e3_wtG = [45,43,42,41,39,37,35,33,32,31,30.5,30,29,28,27.5,27,26.8,26.5,26.3,26,25.5,25,24.5,24,23.5,23,22.8,22.5,22.4,22.3,22.2,22,21.9,21.8,21.6,21.5,21.3,21,20.6,20,19,18,17,16];
const e3_wtR = [44,37,35.5,35,34.5,34,33,32.5,32,31.5,31,30.5,30.3,30.1,30,29.8,29.6,29.5,29.3,29,28.8,28.5,28.3,28.2,28.1,28,27.8,27.6,27.5,27.5,27,26.5,26,25.7,25.3,25,24.8,24.5,24.3,24,23.5,22.5,21.5,20];
const e3_nG = [24,22,21.5,21,20.5,20.3,20,19.8,19.6,19.5,19.4,19.3,19.2,19,18.9,18.8,18.7,18.5,18.4,18.3,18.2,18,17.9,17.8,17.7,17.5,17.4,17.3,17.2,17.1,17,16.9,16.8,16.6,16.5,16.4,16.3,16.1,16,15.6,15,14.5,14,13];
const e3_nR = [30,29.5,29,28.8,28.6,28.5,28.3,28.2,28.1,28,27.8,27.6,27.5,27.2,27,26.5,26.2,26,25.5,25,24.8,24.6,24.5,24.3,24.1,24,23.8,23.5,23.3,23.2,23.1,23,22.8,22.7,22.6,22.5,22.3,22.2,22.1,22,21.5,21,20,19];
const e3_vG = [31,28,27,26.5,26,25,24.5,24.2,24,23.8,23.6,23.5,23.2,23,22.6,22.3,22,21.8,21.6,21.5,21.3,21.2,21.1,21,20.8,20.6,20.5,20.3,20.1,20,19.9,19.8,19.6,19.5,19.4,19.2,19.1,19,18.8,18.5,18,17.5,17,15.5];
const e3_vR = [33,32.5,32,31,30.5,30,29.5,29,28.5,28.4,28.2,28,27.7,27.4,27,26.8,26.6,26.5,26.3,26.1,26,26,25.8,25.6,25.5,25.4,25.2,25.1,25,25,24.8,24.7,24.5,24.4,24.2,24.1,24,23.8,23.6,23.5,23,22.5,21.5,20];

// series order in each panel: WT g-R1, WT R1, N96W g-R1, N96W R1, V35L g-R1, V35L R1
const panelSeries = [
  [[a1_wtG, a1_wtR, a1_nG, a1_nR, a1_vG, a1_vR], [a2_wtG, a2_wtR, a2_nG, a2_nR, a2_vG, a2_vR], [a3_wtG, a3_wtR, a3_nG, a3_nR, a3_vG, a3_vR]],
  [[b1_wtG, b1_wtR, b1_nG, b1_nR, b1_vG, b1_vR], [b2_wtG, b2_wtR, b2_nG, b2_nR, b2_vG, b2_vR], [b3_wtG, b3_wtR, b3_nG, b3_nR, b3_vG, b3_vR]],
  [[c1_wtG, c1_wtR, c1_nG, c1_nR, c1_vG, c1_vR], [c2_wtG, c2_wtR, c2_nG, c2_nR, c2_vG, c2_vR], [c3_wtG, c3_wtR, c3_nG, c3_nR, c3_vG, c3_vR]],
  [[d1_wtG, d1_wtR, d1_nG, d1_nR, d1_vG, d1_vR], [d2_wtG, d2_wtR, d2_nG, d2_nR, d2_vG, d2_vR], [d3_wtG, d3_wtR, d3_nG, d3_nR, d3_vG, d3_vR]],
  [[e1_wtG, e1_wtR, e1_nG, e1_nR, e1_vG, e1_vR], [e2_wtG, e2_wtR, e2_nG, e2_nR, e2_vG, e2_vR], [e3_wtG, e3_wtR, e3_nG, e3_nR, e3_vG, e3_vR]],
];

// ---------- styling / layout ----------
const BLACK = "#231f20";
const CYAN = "#4cc3e6";
const MAGENTA = "#e264dc";
const seriesColor = [BLACK, BLACK, CYAN, CYAN, MAGENTA, MAGENTA];
const seriesDash = [null, "4,2.5", null, "4,2.5", null, "4,2.5"];
const FONT = "Liberation Serif, Times New Roman, DejaVu Serif, serif";

const panelLeft = [22, 254, 486];
const plotWidth = 177;
const rowTop = [36, 267, 502, 733, 968];
const rowBottom = [141, 372, 605, 840, 1072];
const titleY = [12, 243, 475, 708, 942];
const captionY = [221, 451, 682, 917, 1159];

function Panel({ r, p }: { r: number; p: number }) {
  const left = panelLeft[p];
  const top = rowTop[r];
  const bottom = rowBottom[r];
  const n = rowCount[r];
  const x = d3.scaleLinear().domain([1, n]).range([left, left + plotWidth]);
  const y = d3.scaleLinear().domain([5, rowYMax[r]]).range([bottom, top]);
  const yTicks = rowYMax[r] === 35 ? yTicksLow : yTicksHigh;
  const line = d3
    .line<number>()
    .x((_, i) => x(i + 1))
    .y((d) => y(d));
  const minorTicks = d3.range(1, n + 1, 5);
  const cx = left + plotWidth / 2;
  const legY = bottom + 33;
  return (
    <g>
      <text x={cx} y={titleY[r]} dy="0.35em" textAnchor="middle" fontSize={11}>
        {rowTitles[r]}
      </text>
      <text x={cx} y={titleY[r] + 13} dy="0.35em" textAnchor="middle" fontSize={11}>
        {"complex (g-R1) versus free R1, " + panelSuffix[p]}
      </text>
      {yTicks
        .filter((t) => t !== 5)
        .map((t) => (
          <line key={"g" + t} x1={left + 3} x2={left + plotWidth} y1={y(t)} y2={y(t)} stroke="#8a8a8a" strokeWidth={0.9} strokeDasharray="1,4.2" />
        ))}
      {yTicks.map((t) => (
        <text key={"yt" + t} x={left - 4} y={y(t)} dy="0.35em" textAnchor="end" fontSize={11}>
          {t}
        </text>
      ))}
      {panelSeries[r][p].map((vals, si) => (
        <path
          key={"s" + si}
          d={line(vals) || ""}
          fill="none"
          stroke={seriesColor[si]}
          strokeWidth={1}
          strokeDasharray={seriesDash[si] || undefined}
        />
      ))}
      <line x1={left} x2={left} y1={top - 2} y2={bottom} stroke="#555" strokeWidth={1} />
      <line x1={left} x2={left + plotWidth} y1={bottom} y2={bottom} stroke="#7a7a7a" strokeWidth={1.6} />
      {minorTicks.map((t) => (
        <line key={"mt" + t} x1={x(t)} x2={x(t)} y1={bottom} y2={bottom - 2.5} stroke="#7a7a7a" strokeWidth={0.8} />
      ))}
      {xTickValues.map((t) => (
        <text key={"xt" + t} x={x(t)} y={bottom + 10} dy="0.35em" textAnchor="middle" fontSize={11}>
          {t}
        </text>
      ))}
      {seriesNames.map((name, si) => {
        const col = si < 3 ? 0 : 1;
        const row = si % 3;
        const lx = left + (col === 0 ? 0 : 96);
        const ly = legY + row * 13;
        return (
          <g key={"lg" + si}>
            <line x1={lx} x2={lx + 17} y1={ly} y2={ly} stroke={seriesColor[si]} strokeWidth={1.2} strokeDasharray={seriesDash[si] || undefined} />
            <text x={lx + 24} y={ly} dy="0.35em" fontSize={11}>
              {name}
            </text>
          </g>
        );
      })}
    </g>
  );
}

export default function App() {
  return (
    <svg
      width={696}
      height={1169}
      viewBox="0 0 696 1169"
      fontFamily={FONT}
      fill={BLACK}
      style={{ position: "absolute", left: 0, top: 0, background: "#fff", display: "block", fontFamily: FONT }}
    >
      <rect x={0} y={0} width={696} height={1169} fill="#fff" />
      {captions.map((c, r) => (
        <g key={"row" + r}>
          {[0, 1, 2].map((p) => (
            <Panel key={"p" + p} r={r} p={p} />
          ))}
          <text x={348} y={captionY[r]} dy="0.35em" textAnchor="middle" fontSize={11}>
            {c}
          </text>
        </g>
      ))}
    </svg>
  );
}
